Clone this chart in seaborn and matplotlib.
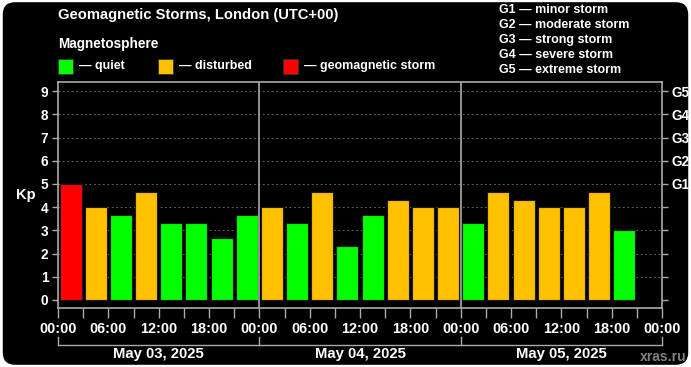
import matplotlib
matplotlib.use("Agg")
import matplotlib.pyplot as plt
import matplotlib.transforms as mtransforms
from matplotlib.patches import FancyBboxPatch, Rectangle
import seaborn as sns
import pandas as pd
import numpy as np

# ---------------- data ----------------
days = ["May 03, 2025", "May 04, 2025", "May 05, 2025"]
kp_day1 = [5.00, 4.00, 3.67, 4.67, 3.33, 3.33, 2.67, 3.67]
kp_day2 = [4.00, 3.33, 4.67, 2.33, 3.67, 4.33, 4.00, 4.00]
kp_day3 = [3.33, 4.67, 4.33, 4.00, 4.00, 4.67, 3.00]
hour_labels = ["00:00", "06:00", "12:00", "18:00"]
g_labels = ["G1", "G2", "G3", "G4", "G5"]
legend_labels = ["— quiet", "— disturbed", "— geomagnetic storm"]
g_legend = ["G1 — minor storm", "G2 — moderate storm", "G3 — strong storm",
            "G4 — severe storm", "G5 — extreme storm"]

colors = {"quiet": "#00ff00", "disturbed": "#ffc000", "storm": "#ff0000"}

kp_all = kp_day1 + kp_day2 + kp_day3
hours = [3 * i + 1.5 for i in range(len(kp_all))]
status = ["storm" if v >= 5 else ("disturbed" if v >= 4 else "quiet") for v in kp_all]
df = pd.DataFrame({"hour": hours, "kp": kp_all, "status": status})

# ---------------- figure ----------------
W, H = 691, 367
fig = plt.figure(figsize=(W / 100, H / 100), dpi=100, facecolor="white")
bg = FancyBboxPatch((0.004, 0.006), 0.992, 0.988, boxstyle="round,pad=0,rounding_size=0.018",
                    transform=fig.transFigure, facecolor="black", edgecolor="none", zorder=-10,
                    mutation_aspect=W / H)
fig.patches.append(bg)

FONT = ["Liberation Sans", "DejaVu Sans"]
plt.rcParams["font.family"] = FONT
plt.rcParams["font.weight"] = "bold"

def fx(x):
    return x / W

def fy(y):
    return 1 - y / H

L, R, T, B = 58, 662, 82, 308
ax = fig.add_axes([fx(L), fy(B), fx(R) - fx(L), fy(T) - fy(B)])
ax.set_facecolor("black")

sns.barplot(data=df, x="hour", y="kp", hue="status", palette=colors, native_scale=True,
            width=0.88, dodge=False, saturation=1, edgecolor="#1a1a1a", linewidth=0.8,
            legend=False, ax=ax, zorder=3)

ax.set_xlim(0, 72)
ax.set_ylim(-0.35, 9.4)

gray = "#aaaaaa"
for s in ax.spines.values():
    s.set_color(gray)
    s.set_linewidth(1.2)

# grid
for v in range(1, 10):
    ax.axhline(v, color="#666666", lw=0.8, ls=(0, (1.5, 2.5)), zorder=1)
for d in (24, 48):
    ax.axvline(d, color=gray, lw=1.2, zorder=4)

# y axis
ax.set_yticks(range(0, 10))
ax.set_yticklabels([str(i) for i in range(10)], color="white", fontsize=9.8, fontweight="bold")
ax.tick_params(axis="y", colors=gray, labelcolor="white", length=4, width=1, pad=3)
ax.set_ylabel("")

# x axis
ax.set_xticks(list(range(0, 73, 3)))
lbls = []
for h in range(0, 73, 3):
    lbls.append("%02d:00" % (h % 24) if h % 6 == 0 else "")
ax.set_xticklabels(lbls, color="white", fontsize=10.4, fontweight="bold")
ax.tick_params(axis="x", colors=gray, labelcolor="white", length=7, width=1, pad=3)
ax.set_xlabel("")

# right axis
ax2 = ax.twinx()
ax2.set_ylim(ax.get_ylim())
ax2.set_yticks(range(0, 10))
ax2.set_yticklabels([""] * 5 + g_labels, fontsize=9.8, fontweight="bold")
ax2.tick_params(axis="y", colors=gray, labelcolor="white", length=4, width=1, pad=3)
for s in ax2.spines.values():
    s.set_visible(False)

# Kp label
fig.text(fx(25.5), fy(195), "Kp", color="white", fontsize=10.5, fontweight="bold",
         ha="center", va="center")

# bracket + dates
tr = mtransforms.blended_transform_factory(ax.transData, fig.transFigure)
ax.plot([0, 72], [fy(345), fy(345)], color=gray, lw=1, transform=tr, clip_on=False)
for d in (0, 24, 48, 72):
    ax.plot([d, d], [fy(337), fy(345)], color=gray, lw=1, transform=tr, clip_on=False)
for i, dname in enumerate(days):
    ax.text(12 + 24 * i, fy(354), dname, transform=tr, color="white", fontsize=10.7,
            fontweight="bold", ha="center", va="center")

# watermark
fig.text(fx(687), fy(357), "xras.ru", color="#808080", fontsize=10, ha="right", va="center",
         fontweight="bold")

# title and legend
fig.text(fx(58), fy(15), "Geomagnetic Storms, London (UTC+00)", color="white", fontsize=10.6,
         fontweight="bold", ha="left", va="center")
fig.text(fx(58), fy(44), "Magnetosphere", color="white", fontsize=9.8, fontweight="bold",
         ha="left", va="center")
for (xs, key, lab) in [(58, "quiet", legend_labels[0]), (158, "disturbed", legend_labels[1]),
                       (283, "storm", legend_labels[2])]:
    fig.patches.append(Rectangle((fx(xs), fy(74)), fx(15), fy(59) - fy(74),
                                 transform=fig.transFigure, facecolor=colors[key],
                                 edgecolor="#333333", lw=0.6))
    fig.text(fx(xs + 21), fy(66), lab, color="white", fontsize=9, fontweight="bold",
             ha="left", va="center")

for i, lab in enumerate(g_legend):
    fig.text(fx(499), fy(10 + 15 * i), lab, color="white", fontsize=9, fontweight="bold",
             ha="left", va="center")

fig.savefig("out.png", dpi=100, facecolor=fig.get_facecolor())
